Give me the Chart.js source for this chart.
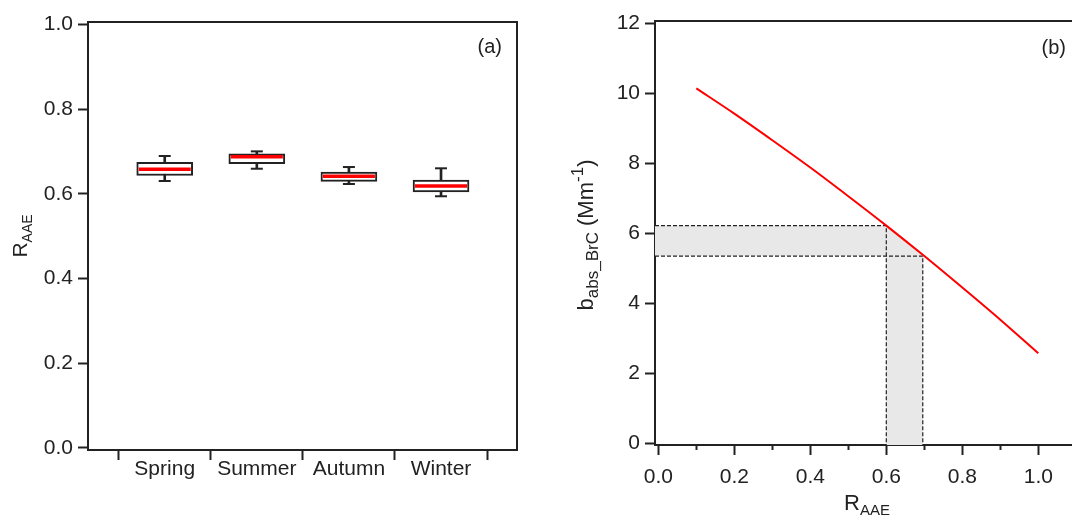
<!DOCTYPE html>
<html>
<head>
<meta charset="utf-8">
<script src="https://cdn.jsdelivr.net/npm/chart.js@4"></script>
<style>
  html, body { margin: 0; padding: 0; background: #fff; overflow: hidden; }
  #wrap { position: relative; width: 1072px; height: 516px; }
  canvas { position: absolute; top: 0; }
  #left { left: 0; }
  #right { left: 540px; }
</style>
</head>
<body>
<div id="wrap">
  <canvas id="left" width="540" height="516"></canvas>
  <canvas id="right" width="532" height="516"></canvas>
</div>
<script>
// ---------- data: panel (a) ----------
const seasons = ["Spring", "Summer", "Autumn", "Winter"];
const whiskerLow  = [0.630, 0.659, 0.623, 0.594];
const boxLow      = [0.643, 0.671, 0.629, 0.604];
const medians     = [0.658, 0.687, 0.641, 0.618];
const boxHigh     = [0.674, 0.694, 0.651, 0.632];
const whiskerHigh = [0.689, 0.700, 0.663, 0.660];
const raaeTicksA = [0, 0.2, 0.4, 0.6, 0.8, 1.0];
const seasonEdges = [0.5, 1.5, 2.5, 3.5, 4.5];

// ---------- data: panel (b) ----------
const raae    = [0.1, 0.2, 0.3, 0.4, 0.5, 0.6, 0.7, 0.8, 0.9, 1.0];
const babsBrC = [10.14, 9.42, 8.66, 7.88, 7.06, 6.22, 5.35, 4.45, 3.53, 2.57];
const raaeRange = [0.6, 0.696];
const babsRange = [5.35, 6.22];
const babsTicks = [0, 2, 4, 6, 8, 10, 12];
const raaeTicksB = [0, 0.2, 0.4, 0.6, 0.8, 1.0];
const raaeMinorTicks = [0.1, 0.3, 0.5, 0.7, 0.9];

// axis ranges of panel (b)
const xMinB = -0.0087, xMaxB = 1.0887;
const yMinB = -0.049, yMaxB = 12.066;

const FONT = "'Liberation Sans', Arial, Helvetica, sans-serif";
const INK = "#222";
Chart.defaults.font.family = FONT;
Chart.defaults.font.size = 21;
Chart.defaults.color = INK;
Chart.defaults.animation = false;

// ---------- helpers ----------
function setTicks(list) {
  return scale => { scale.ticks = list.map(v => ({ value: v })); };
}

function richText(ctx, item) {
  ctx.save();
  ctx.translate(item.x, item.y);
  if (item.rotate) ctx.rotate(-Math.PI / 2);
  ctx.fillStyle = INK;
  ctx.textBaseline = "alphabetic";
  ctx.textAlign = "left";
  let total = 0;
  item.parts.forEach(p => {
    ctx.font = p.size + "px " + FONT;
    p.w = ctx.measureText(p.text).width;
    total += p.w;
  });
  let cx = item.align === "right" ? -total : -total / 2;
  item.parts.forEach(p => {
    ctx.font = p.size + "px " + FONT;
    ctx.fillText(p.text, cx, p.dy || 0);
    cx += p.w;
  });
  ctx.restore();
}

const framePlugin = {
  id: "frame",
  afterDraw(chart, args, opts) {
    const { ctx, chartArea: a } = chart;
    ctx.save();
    ctx.strokeStyle = INK;
    ctx.lineWidth = 2;
    ctx.beginPath();
    ctx.moveTo(a.left - 1, a.top);
    ctx.lineTo(a.right, a.top);
    if (opts.right) ctx.lineTo(a.right, a.bottom + 1);
    ctx.stroke();
    ctx.restore();
  }
};

const textPlugin = {
  id: "texts",
  afterDraw(chart, args, opts) {
    (opts.items || []).forEach(item => richText(chart.ctx, item));
  }
};

const axisLine = { color: INK, width: 2 };

// ---------- panel (a): box plot ----------
const boxX = seasons.map((_, i) => i + 1);

new Chart(document.getElementById("left"), {
  type: "scatter",
  data: {
    datasets: [
      {
        type: "bar",
        data: boxX.map((x, i) => ({ x: x, y: [whiskerLow[i], whiskerHigh[i]] })),
        backgroundColor: INK,
        borderWidth: 0,
        barThickness: 2,
        grouped: false,
        order: 4
      },
      {
        type: "bar",
        data: boxX.map((x, i) => ({ x: x, y: [boxLow[i], boxHigh[i]] })),
        backgroundColor: "#fff",
        borderColor: INK,
        borderWidth: 2,
        borderSkipped: false,
        barThickness: 56,
        grouped: false,
        order: 3
      },
      {
        data: boxX.map((x, i) => ({ x: x, y: whiskerLow[i] }))
          .concat(boxX.map((x, i) => ({ x: x, y: whiskerHigh[i] }))),
        pointStyle: "line",
        pointRadius: 6,
        borderColor: INK,
        borderWidth: 2,
        order: 2
      },
      {
        data: boxX.map((x, i) => ({ x: x, y: medians[i] })),
        pointStyle: "line",
        pointRadius: 26,
        borderColor: "#ff0000",
        borderWidth: 3.5,
        order: 1
      }
    ]
  },
  options: {
    responsive: false,
    layout: { autoPadding: false, padding: { top: 22, right: 23, left: 0, bottom: 0 } },
    plugins: {
      legend: { display: false },
      tooltip: { enabled: false },
      frame: { right: true },
      texts: {
        items: [
          { x: 27, y: 236, rotate: true, parts: [
            { text: "R", size: 21 }, { text: "AAE", size: 14, dy: 5 } ] },
          { x: 502, y: 53, align: "right", parts: [ { text: "(a)", size: 20 } ] }
        ]
      }
    },
    scales: {
      x: {
        type: "linear",
        min: 0.167,
        max: 4.825,
        offset: false,
        afterBuildTicks: setTicks(seasonEdges.concat(boxX).sort((a, b) => a - b)),
        afterFit: s => { s.height = 66; },
        border: axisLine,
        grid: {
          drawOnChartArea: false,
          offset: false,
          tickLength: 10,
          tickWidth: 2,
          tickColor: c => (c.tick && Number.isInteger(c.tick.value)) ? "rgba(0,0,0,0)" : INK
        },
        ticks: {
          autoSkip: false,
          maxRotation: 0,
          padding: -3,
          callback: v => Number.isInteger(v) ? seasons[v - 1] : ""
        }
      },
      y: {
        min: -0.005,
        max: 1.0054,
        afterBuildTicks: setTicks(raaeTicksA),
        afterFit: s => { s.width = 88; },
        border: axisLine,
        grid: { drawOnChartArea: false, tickLength: 10, tickWidth: 2, tickColor: INK },
        ticks: { padding: 5, callback: v => v.toFixed(1) }
      }
    }
  },
  plugins: [framePlugin, textPlugin]
});

// ---------- panel (b): b_abs_BrC vs R_AAE ----------
const shadeShape = [
  { x: xMinB, y: babsRange[1] },
  { x: raaeRange[0], y: babsRange[1] },
  { x: raaeRange[1], y: babsRange[0] },
  { x: raaeRange[1], y: yMinB },
  { x: raaeRange[0], y: yMinB },
  { x: raaeRange[0], y: babsRange[0] },
  { x: xMinB, y: babsRange[0] }
];

new Chart(document.getElementById("right"), {
  type: "scatter",
  data: {
    datasets: [
      {
        data: shadeShape,
        showLine: true,
        fill: "shape",
        backgroundColor: "#e8e8e8",
        borderWidth: 0,
        pointRadius: 0,
        order: 4
      },
      {
        data: [
          { x: xMinB, y: babsRange[1] },
          { x: raaeRange[0], y: babsRange[1] },
          { x: raaeRange[0], y: yMinB }
        ],
        showLine: true,
        borderColor: INK,
        borderWidth: 1.2,
        borderDash: [4, 2],
        pointRadius: 0,
        order: 3
      },
      {
        data: [
          { x: xMinB, y: babsRange[0] },
          { x: raaeRange[1], y: babsRange[0] },
          { x: raaeRange[1], y: yMinB }
        ],
        showLine: true,
        borderColor: INK,
        borderWidth: 1.2,
        borderDash: [4, 2],
        pointRadius: 0,
        order: 2
      },
      {
        data: raae.map((r, i) => ({ x: r, y: babsBrC[i] })),
        showLine: true,
        cubicInterpolationMode: "monotone",
        borderColor: "#ff0000",
        borderWidth: 2,
        pointRadius: 0,
        order: 1
      }
    ]
  },
  options: {
    responsive: false,
    layout: { autoPadding: false, padding: { top: 21, right: 0, left: 0, bottom: 0 } },
    plugins: {
      legend: { display: false },
      tooltip: { enabled: false },
      frame: { right: false },
      texts: {
        items: [
          { x: 53, y: 235, rotate: true, parts: [
            { text: "b", size: 22 },
            { text: "abs_BrC", size: 17, dy: 5 },
            { text: " (Mm", size: 22 },
            { text: "-1", size: 17, dy: -10 },
            { text: ")", size: 22 } ] },
          { x: 327, y: 510, parts: [
            { text: "R", size: 22 }, { text: "AAE", size: 15, dy: 5 } ] },
          { x: 526, y: 54, align: "right", parts: [ { text: "(b)", size: 20 } ] }
        ]
      }
    },
    scales: {
      x: {
        type: "linear",
        position: "bottom",
        weight: 1,
        min: xMinB,
        max: xMaxB,
        afterBuildTicks: setTicks(raaeTicksB),
        afterFit: s => { s.height = 71; },
        border: axisLine,
        grid: { drawOnChartArea: false, tickLength: 10, tickWidth: 2, tickColor: INK },
        ticks: { autoSkip: false, maxRotation: 0, padding: 10, callback: v => v.toFixed(1) }
      },
      xMinor: {
        type: "linear",
        position: "bottom",
        weight: 0,
        min: xMinB,
        max: xMaxB,
        afterBuildTicks: setTicks(raaeMinorTicks),
        afterFit: s => { s.height = 0; },
        border: { display: false },
        grid: { drawOnChartArea: false, tickLength: 5, tickWidth: 2, tickColor: INK },
        ticks: { display: false }
      },
      y: {
        min: yMinB,
        max: yMaxB,
        afterBuildTicks: setTicks(babsTicks),
        afterFit: s => { s.width = 115; },
        border: axisLine,
        grid: { drawOnChartArea: false, tickLength: 10, tickWidth: 2, tickColor: INK },
        ticks: { padding: 5, callback: v => String(v) }
      }
    }
  },
  plugins: [framePlugin, textPlugin]
});
</script>
</body>
</html>
